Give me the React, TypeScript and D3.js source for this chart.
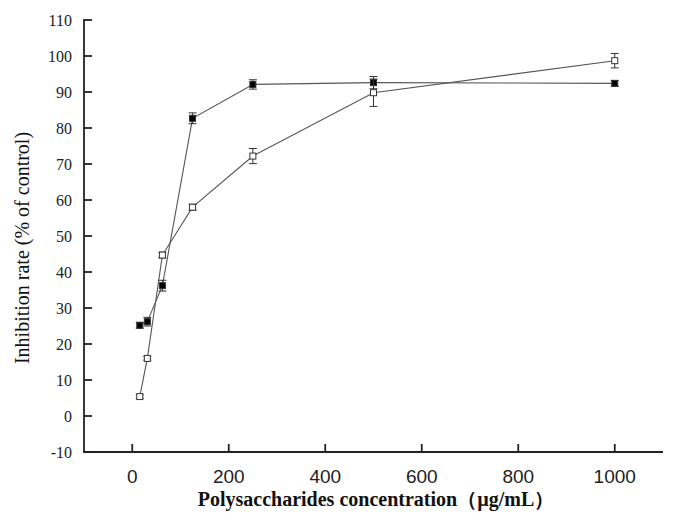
import React from "react";
import * as d3 from "d3";

// concentrations (µg/mL)
const concentrations = [15.6, 31.25, 62.5, 125, 250, 500, 1000];
// filled squares
const filledMean = [25.2, 26.2, 36.2, 82.7, 92.1, 92.6, 92.4];
const filledErr = [0.8, 1.2, 1.5, 1.5, 1.3, 1.7, 0.8];
// open squares
const openMean = [5.4, 16.0, 44.7, 58.0, 72.2, 89.8, 98.7];
const openErr = [0.5, 0.5, 0.8, 0.8, 2.1, 3.8, 2.0];

const xTicks = [0, 200, 400, 600, 800, 1000];
const yTicks = [-10, 0, 10, 20, 30, 40, 50, 60, 70, 80, 90, 100, 110];

const W = 679;
const H = 526;

const App = () => {
  const x = d3.scaleLinear().domain([-100, 1100]).range([84, 663]);
  const y = d3.scaleLinear().domain([-10, 110]).range([452, 20]);

  const line = d3
    .line<number>()
    .x((d, i) => x(concentrations[i]))
    .y((d) => y(d));

  const series = [
    { mean: filledMean, err: filledErr, fill: "#000" },
    { mean: openMean, err: openErr, fill: "#fff" },
  ];

  const ms = 6; // marker size
  const cap = 4;

  return (
    <svg
      width={W}
      height={H}
      style={{ position: "absolute", left: 0, top: 0, background: "#fff" }}
    >
      {/* lines */}
      {series.map((s, k) => (
        <path key={`l${k}`} d={line(s.mean) || ""} fill="none" stroke="#555" strokeWidth={1.1} />
      ))}

      {/* error bars + markers */}
      {series.map((s, k) => (
        <g key={`m${k}`}>
          {s.mean.map((v, i) => {
            const cx = x(concentrations[i]);
            const top = y(v + s.err[i]);
            const bot = y(v - s.err[i]);
            return (
              <g key={i} stroke="#333" strokeWidth={1}>
                <line x1={cx} x2={cx} y1={top} y2={bot} />
                <line x1={cx - cap} x2={cx + cap} y1={top} y2={top} />
                <line x1={cx - cap} x2={cx + cap} y1={bot} y2={bot} />
                <rect
                  x={cx - ms / 2}
                  y={y(v) - ms / 2}
                  width={ms}
                  height={ms}
                  fill={s.fill}
                  stroke="#333"
                />
              </g>
            );
          })}
        </g>
      ))}

      {/* axes */}
      <g stroke="#222" strokeWidth={1.8} fill="none">
        <line x1={84} x2={84} y1={19} y2={453} />
        <line x1={83} x2={663} y1={452} y2={452} />
        {yTicks.map((t) => (
          <line key={`yt${t}`} x1={84} x2={92} y1={y(t)} y2={y(t)} />
        ))}
        {xTicks.map((t) => (
          <line key={`xt${t}`} x1={x(t)} x2={x(t)} y1={452} y2={444} />
        ))}
      </g>

      {yTicks.map((t) => (
        <text
          key={`yl${t}`}
          x={72}
          y={y(t)}
          dy="0.35em"
          textAnchor="end"
          fontFamily="'Liberation Serif', 'Times New Roman', serif"
          fontSize={16}
          fill="#222"
        >
          {t}
        </text>
      ))}
      {xTicks.map((t) => (
        <text
          key={`xl${t}`}
          x={x(t)}
          y={483}
          textAnchor="middle"
          fontFamily="'Liberation Sans Narrow', 'Liberation Sans', Arial, sans-serif"
          fontSize={19}
          fill="#222"
        >
          {t}
        </text>
      ))}

      <text
        x={376}
        y={506}
        textAnchor="middle"
        fontFamily="'Liberation Serif', 'Times New Roman', serif"
        fontWeight="bold"
        fontSize={20}
        fill="#111"
      >
        Polysaccharides concentration（µg/mL）
      </text>
      <text
        transform={`translate(29, 248) rotate(-90)`}
        textAnchor="middle"
        fontFamily="'Liberation Serif', 'Times New Roman', serif"
        fontSize={20}
        fill="#111"
      >
        Inhibition rate (% of control)
      </text>
    </svg>
  );
};

export default App;
